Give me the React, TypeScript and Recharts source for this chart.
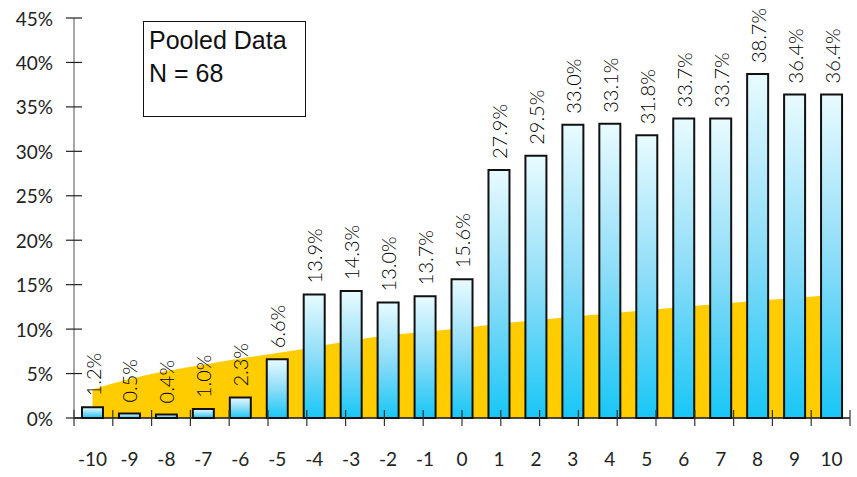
import { ComposedChart, Bar, Area, XAxis, YAxis, LabelList } from "recharts";

// Offset from the event day (x) and the share of observations per day
const days = ["-10", "-9", "-8", "-7", "-6", "-5", "-4", "-3", "-2", "-1", "0", "1", "2", "3", "4", "5", "6", "7", "8", "9", "10"];
const shares = [1.2, 0.5, 0.4, 1.0, 2.3, 6.6, 13.9, 14.3, 13.0, 13.7, 15.6, 27.9, 29.5, 33.0, 33.1, 31.8, 33.7, 33.7, 38.7, 36.4, 36.4];
const expected = [3.2, 4.4, 5.3, 6.0, 6.7, 7.3, 8.0, 8.7, 9.3, 9.7, 10.1, 10.6, 11.0, 11.4, 11.75, 12.15, 12.5, 12.85, 13.2, 13.5, 13.85];
const yTicks = [0, 5, 10, 15, 20, 25, 30, 35, 40, 45];
// band edges between the day columns
const edges = [0, 1, 2, 3, 4, 5, 6, 7, 8, 9, 10, 11, 12, 13, 14, 15, 16, 17, 18, 19, 20, 21];

const rows = days.map((day, i) => ({ day, share: shares[i], base: expected[i] }));

const AXIS_FONT = "Lato, 'DejaVu Sans', sans-serif";

function YTick(props: any) {
  const { x, y, payload } = props;
  return (
    <g>
      <line x1={x - 8} x2={x + 8} y1={y} y2={y} stroke="#222" strokeWidth={1.2} />
      <text
        x={x - 21}
        y={y}
        textAnchor="end"
        dominantBaseline="central"
        fontFamily={AXIS_FONT}
        fontSize={19}
        fill="#222"
      >
        {payload.value}%
      </text>
    </g>
  );
}

function DayTick(props: any) {
  const { x, y, payload } = props;
  return (
    <text
      x={x}
      y={y + 40}
      textAnchor="middle"
      dominantBaseline="central"
      fontFamily={AXIS_FONT}
      fontSize={19}
      fill="#222"
    >
      {payload.value}
    </text>
  );
}

function EdgeTick(props: any) {
  const { x, y } = props;
  return <line x1={x} x2={x} y1={y - 8} y2={y + 8} stroke="#333" strokeWidth={1.2} />;
}

function ShareLabel(props: any) {
  const { x, y, width, value } = props;
  const cx = Number(x) + Number(width) / 2;
  const top = Number(y) - 11;
  return (
    <text
      transform={`translate(${cx}, ${top}) rotate(-90)`}
      textAnchor="start"
      dominantBaseline="central"
      fontFamily={AXIS_FONT}
      fontWeight={300}
      fontSize={20}
      fill="#000"
    >
      {Number(value).toFixed(1)}%
    </text>
  );
}

export default function App() {
  return (
    <div style={{ position: "absolute", left: 0, top: 0, width: 857, height: 477, background: "#fff" }}>
      <ComposedChart
        width={857}
        height={477}
        data={rows}
        margin={{ top: 18, right: 7, left: 0, bottom: 0 }}
      >
        <defs>
          <linearGradient id="barFill" x1="0" y1="0" x2="0" y2="1">
            <stop offset="0%" stopColor="#E8FBFF" />
            <stop offset="50%" stopColor="#8EDDF8" />
            <stop offset="100%" stopColor="#18C6F6" />
          </linearGradient>
        </defs>
        <XAxis
          xAxisId="cat"
          dataKey="day"
          type="category"
          height={59}
          tickLine={false}
          tickSize={0}
          tickMargin={0}
          axisLine={{ stroke: "#111", strokeWidth: 1.5 }}
          tick={<DayTick />}
          interval={0}
        />
        <XAxis
          xAxisId="edge"
          type="number"
          domain={[0, 21]}
          ticks={edges}
          allowDataOverflow
          mirror
          axisLine={false}
          tickLine={false}
          tickSize={0}
          tickMargin={0}
          tick={<EdgeTick />}
          interval={0}
        />
        <YAxis
          type="number"
          domain={[0, 45]}
          ticks={yTicks}
          width={74}
          tickLine={false}
          tickSize={0}
          tickMargin={0}
          axisLine={{ stroke: "#8a8a8a", strokeWidth: 1.5 }}
          tick={<YTick />}
          interval={0}
        />
        <Area
          xAxisId="cat"
          type="monotone"
          dataKey="base"
          fill="#FFCC00"
          fillOpacity={1}
          stroke="none"
          isAnimationActive={false}
        />
        <Bar
          xAxisId="cat"
          dataKey="share"
          barSize={21}
          fill="url(#barFill)"
          stroke="#111"
          strokeWidth={2}
          isAnimationActive={false}
        >
          <LabelList dataKey="share" content={<ShareLabel />} />
        </Bar>
      </ComposedChart>
      <div
        style={{
          position: "absolute",
          left: 143,
          top: 21,
          width: 163,
          height: 96,
          border: "1.5px solid #111",
          background: "#fff",
          fontFamily: "'Liberation Sans', Arial, sans-serif",
          fontSize: 25,
          color: "#111",
          lineHeight: "33px",
          padding: "2px 0 0 5px",
          boxSizing: "border-box",
        }}
      >
        <div>Pooled Data</div>
        <div>N = 68</div>
      </div>
    </div>
  );
}
